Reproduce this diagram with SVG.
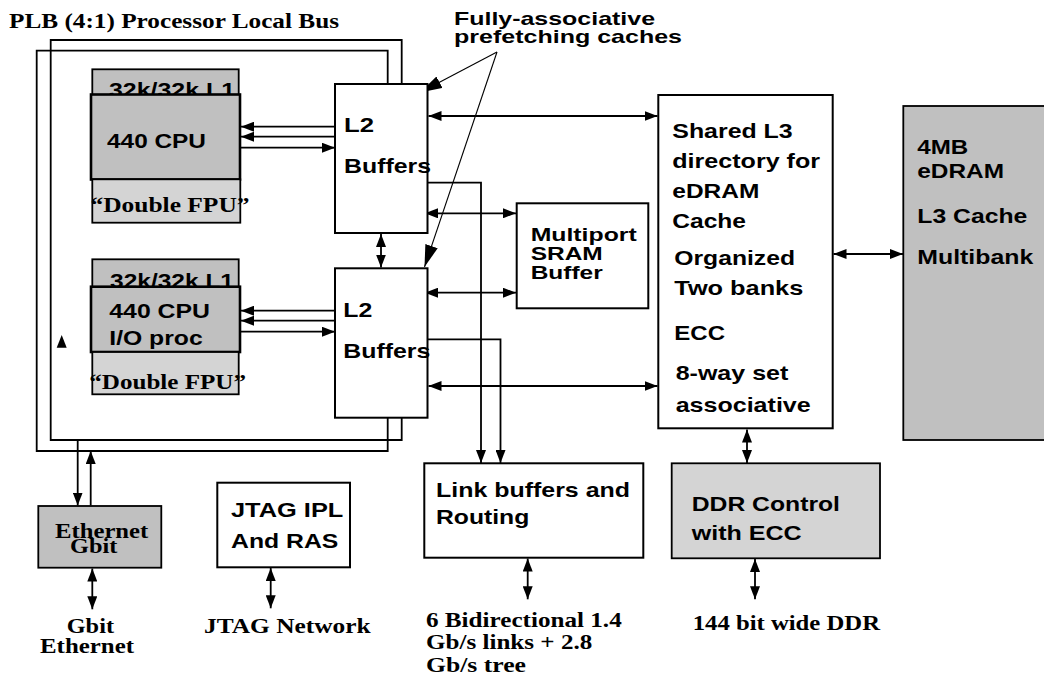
<svg xmlns="http://www.w3.org/2000/svg" width="1044" height="692" viewBox="0 0 1044 692">
<style>
.s{font-family:"Liberation Sans",Arial,sans-serif;font-weight:bold;font-size:21px;fill:#000}
.m{font-family:"Liberation Sans",Arial,sans-serif;font-weight:bold;font-size:19px;fill:#000}
.t{font-family:"Liberation Serif","Times New Roman",serif;font-weight:bold;font-size:21px;fill:#000}
.bx{fill:#fff;stroke:#000;stroke-width:2}
.g1{fill:#c0c0c0;stroke:#000;stroke-width:1.8}
.g2{fill:#d4d4d4;stroke:#000;stroke-width:1.8}
.cpu{fill:#c0c0c0;stroke:#000;stroke-width:2.6}
.c{fill:none;stroke:#000;stroke-width:1.8}
.a1{marker-end:url(#a)}
.a2{marker-start:url(#a);marker-end:url(#a)}
.an{fill:none;stroke:#000;stroke-width:1.1;marker-end:url(#b)}
</style>
<defs>
<marker id="a" viewBox="0 0 13 10" refX="13" refY="5" markerWidth="13" markerHeight="10" markerUnits="userSpaceOnUse" orient="auto-start-reverse"><path d="M0,0 L13,5 L0,10 z" fill="#000"/></marker>
<marker id="b" viewBox="0 0 22 13" refX="22" refY="6.5" markerWidth="22" markerHeight="13" markerUnits="userSpaceOnUse" orient="auto"><path d="M0,0 L22,6.5 L0,13 z" fill="#000"/></marker>
</defs>
<rect width="1044" height="692" fill="#fff"/>

<text class="t" x="9" y="28" textLength="330" lengthAdjust="spacingAndGlyphs">PLB (4:1) Processor Local Bus</text>
<text class="m" x="454" y="25" textLength="201" lengthAdjust="spacingAndGlyphs">Fully-associative</text>
<text class="m" x="454" y="43" textLength="228" lengthAdjust="spacingAndGlyphs">prefetching caches</text>

<g id="connectors">
<polyline class="c" points="401.7,84 401.7,40 50.7,40 50.7,440 401.7,440 401.7,418"/>
<polyline class="c" points="387.7,84 387.7,50.7 36.7,50.7 36.7,451 387.7,451 387.7,418"/>
<line class="c a1" x1="335" y1="126.7" x2="241" y2="126.7"/>
<line class="c a1" x1="335" y1="136.7" x2="241" y2="136.7"/>
<line class="c a1" x1="241" y1="147.7" x2="335" y2="147.7"/>
<line class="c a1" x1="335" y1="310.7" x2="241" y2="310.7"/>
<line class="c a1" x1="335" y1="320.7" x2="241" y2="320.7"/>
<line class="c a1" x1="241" y1="331.7" x2="335" y2="331.7"/>
<line class="c a2" x1="381" y1="234" x2="381" y2="267.5"/>
<line class="c a2" x1="428.5" y1="116" x2="657.5" y2="116"/>
<line class="c a2" x1="425" y1="213.3" x2="516" y2="213.3"/>
<line class="c a2" x1="425" y1="292.7" x2="516" y2="292.7"/>
<line class="c a2" x1="428.5" y1="386" x2="657.5" y2="386"/>
<polyline class="c a1" points="421.7,182.7 481,182.7 481,463"/>
<polyline class="c a1" points="423.3,339.3 500.5,339.3 500.5,463"/>
<line class="c a2" x1="747" y1="429.5" x2="747" y2="463"/>
<line class="c a2" x1="833.5" y1="254" x2="903" y2="254"/>
<line class="c a2" x1="527.7" y1="558.5" x2="527.7" y2="599.3"/>
<line class="c a2" x1="755" y1="559" x2="755" y2="599.3"/>
<line class="c a1" x1="77.7" y1="440" x2="77.7" y2="505.5"/>
<line class="c a1" x1="90.7" y1="505.5" x2="90.7" y2="451"/>
<line class="c a2" x1="92.3" y1="568.5" x2="92.3" y2="609.3"/>
<line class="c a2" x1="270.7" y1="568" x2="270.7" y2="608.3"/>
<path d="M61.7,335 L56.7,347.7 L66.7,347.7 z" fill="#000"/>
<line class="an" x1="497" y1="52" x2="420" y2="92.5"/>
<line class="an" x1="497" y1="52" x2="424.5" y2="267"/>
</g>

<g id="cpu1">
<rect class="g1" x="92.3" y="69.3" width="146.4" height="30"/>
<text class="s" x="109" y="97" textLength="126" lengthAdjust="spacingAndGlyphs">32k/32k L1</text>
<rect class="cpu" x="91" y="94.5" width="149" height="85"/>
<text class="s" x="107" y="148" textLength="99" lengthAdjust="spacingAndGlyphs">440 CPU</text>
<rect class="g2" x="92.3" y="179.3" width="148" height="43.4"/>
<text class="t" x="90.5" y="211.5" textLength="159" lengthAdjust="spacingAndGlyphs">“Double FPU”</text>
</g>

<g id="cpu2">
<rect class="g1" x="92.3" y="259.3" width="146.4" height="30"/>
<text class="s" x="110" y="288" textLength="124" lengthAdjust="spacingAndGlyphs">32k/32k L1</text>
<rect class="cpu" x="91" y="286.7" width="149" height="65.3"/>
<text class="s" x="109.3" y="318" textLength="100.7" lengthAdjust="spacingAndGlyphs">440 CPU</text>
<text class="s" x="109.3" y="345" textLength="93.4" lengthAdjust="spacingAndGlyphs">I/O proc</text>
<rect class="g2" x="92.3" y="352" width="146.4" height="42.3"/>
<text class="t" x="89.3" y="389.3" textLength="156.7" lengthAdjust="spacingAndGlyphs">“Double FPU”</text>
</g>

<g id="l2top">
<rect class="bx" x="335" y="84" width="92.5" height="149"/>
<text class="s" x="344" y="132" textLength="30" lengthAdjust="spacingAndGlyphs">L2</text>
<text class="s" x="344" y="173" textLength="87" lengthAdjust="spacingAndGlyphs">Buffers</text>
</g>

<g id="l2bottom">
<rect class="bx" x="335" y="268.3" width="92.5" height="149.4"/>
<text class="s" x="343.3" y="317.3" textLength="29" lengthAdjust="spacingAndGlyphs">L2</text>
<text class="s" x="343.3" y="358.3" textLength="87" lengthAdjust="spacingAndGlyphs">Buffers</text>
</g>

<g id="sram">
<rect class="bx" x="516.7" y="203.3" width="131.6" height="105"/>
<text class="m" x="530.7" y="241" textLength="106" lengthAdjust="spacingAndGlyphs">Multiport</text>
<text class="m" x="530.7" y="259.5" textLength="72" lengthAdjust="spacingAndGlyphs">SRAM</text>
<text class="m" x="530.7" y="279" textLength="72" lengthAdjust="spacingAndGlyphs">Buffer</text>
</g>

<g id="l3">
<rect class="bx" x="658.3" y="95" width="174.4" height="333.3"/>
<text class="s" x="672.3" y="138.3" textLength="120.4" lengthAdjust="spacingAndGlyphs">Shared L3</text>
<text class="s" x="672.3" y="168.3" textLength="147.7" lengthAdjust="spacingAndGlyphs">directory for</text>
<text class="s" x="672.3" y="198.3" textLength="87" lengthAdjust="spacingAndGlyphs">eDRAM</text>
<text class="s" x="672.3" y="228.3" textLength="73.7" lengthAdjust="spacingAndGlyphs">Cache</text>
<text class="s" x="674.3" y="265" textLength="120.7" lengthAdjust="spacingAndGlyphs">Organized</text>
<text class="s" x="674.3" y="295" textLength="129" lengthAdjust="spacingAndGlyphs">Two banks</text>
<text class="s" x="674.3" y="340" textLength="50.7" lengthAdjust="spacingAndGlyphs">ECC</text>
<text class="s" x="675.7" y="380" textLength="112.6" lengthAdjust="spacingAndGlyphs">8-way set</text>
<text class="s" x="675.7" y="411.7" textLength="135" lengthAdjust="spacingAndGlyphs">associative</text>
</g>

<g id="edram">
<rect class="g1" x="903.3" y="106" width="150" height="334"/>
<text class="s" x="917.3" y="154" textLength="51" lengthAdjust="spacingAndGlyphs">4MB</text>
<text class="s" x="917.3" y="178.3" textLength="86.7" lengthAdjust="spacingAndGlyphs">eDRAM</text>
<text class="s" x="917.3" y="223.3" textLength="110" lengthAdjust="spacingAndGlyphs">L3 Cache</text>
<text class="s" x="917.3" y="264" textLength="116" lengthAdjust="spacingAndGlyphs">Multibank</text>
</g>

<g id="link">
<rect class="bx" x="424.3" y="463.3" width="219" height="94.4"/>
<text class="s" x="436" y="496.7" textLength="194" lengthAdjust="spacingAndGlyphs">Link buffers and</text>
<text class="s" x="436" y="524" textLength="93.3" lengthAdjust="spacingAndGlyphs">Routing</text>
</g>

<g id="ddr">
<rect class="g2" x="671.7" y="463.3" width="208.3" height="95"/>
<text class="s" x="691.7" y="511" textLength="148.3" lengthAdjust="spacingAndGlyphs">DDR Control</text>
<text class="s" x="691.7" y="540" textLength="110" lengthAdjust="spacingAndGlyphs">with ECC</text>
</g>

<g id="ethernet">
<rect class="g1" x="38.3" y="506" width="123" height="61.7"/>
<text class="t" x="55" y="538.3" textLength="93.3" lengthAdjust="spacingAndGlyphs">Ethernet</text>
<text class="t" x="70" y="553.3" textLength="47.3" lengthAdjust="spacingAndGlyphs">Gbit</text>
</g>

<g id="jtag">
<rect class="bx" x="217.3" y="482.7" width="132.7" height="84.6"/>
<text class="s" x="231" y="517.3" textLength="112.3" lengthAdjust="spacingAndGlyphs">JTAG IPL</text>
<text class="s" x="231" y="548.3" textLength="107.3" lengthAdjust="spacingAndGlyphs">And RAS</text>
</g>

<g id="labels">
<text class="t" x="66.7" y="632.7" textLength="47.3" lengthAdjust="spacingAndGlyphs">Gbit</text>
<text class="t" x="40" y="653.3" textLength="94" lengthAdjust="spacingAndGlyphs">Ethernet</text>
<text class="t" x="204" y="632.7" textLength="166.7" lengthAdjust="spacingAndGlyphs">JTAG Network</text>
<text class="t" x="426" y="626.7" textLength="195.7" lengthAdjust="spacingAndGlyphs">6 Bidirectional 1.4</text>
<text class="t" x="426" y="649.3" textLength="166.3" lengthAdjust="spacingAndGlyphs">Gb/s links + 2.8</text>
<text class="t" x="426" y="671.7" textLength="100" lengthAdjust="spacingAndGlyphs">Gb/s tree</text>
<text class="t" x="692.7" y="630" textLength="187.3" lengthAdjust="spacingAndGlyphs">144 bit wide DDR</text>
</g>
</svg>
